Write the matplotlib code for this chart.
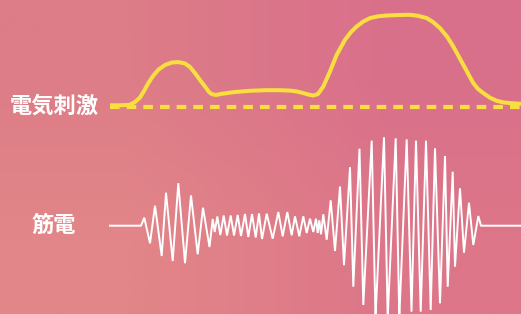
import numpy as np
import matplotlib
matplotlib.use("Agg")
import matplotlib.pyplot as plt

plt.rcParams['font.family'] = ['Noto Sans CJK JP', 'DejaVu Sans']

# Labels
stim_label = "電気刺激"
emg_label = "筋電"

# Electrical stimulation envelope (time, level above baseline)
stim_t = [110, 120, 130, 135, 140, 144, 148.3, 153, 158.3, 165, 172, 178.3,
          185, 190, 195, 200, 205, 209, 211.7, 216, 221.7, 235, 250, 265,
          280, 290, 297, 303.3, 309, 313.3, 318, 323.3, 330, 336.7, 345, 351,
          356.7, 363, 370, 378, 386.7, 400, 410, 418, 426.7, 433, 440, 447,
          453.3, 463.3, 473.3, 478, 483.3, 490, 496.7, 503, 510, 521]
stim_v = [1.2, 1.2, 1.7, 4.5, 9, 15.5, 23.4, 30.5, 36.7, 41.5, 44, 44.4,
          43, 39.5, 33.4, 26.5, 20, 14.5, 12.4, 11.5, 12.7, 14.5, 15.7, 16.3,
          16.3, 15.9, 15, 13.4, 11.8, 11, 12.5, 20, 35, 51.7, 66.7, 74.5,
          80, 84.8, 88.4, 90.2, 91, 91.5, 91.7, 90.7, 88.4, 84.5, 78.4, 70,
          60, 41.7, 23.4, 17.5, 13.4, 8.8, 5.7, 4.2, 3.4, 2.7]

# EMG trace (time, amplitude)
emg_t = [110, 141, 144.3, 150, 155, 161.7, 166, 172.7, 178.3, 185, 191,
         197.7, 203, 209.5, 212.7, 214.7, 217.3, 220.3, 223.7, 227, 230.7,
         234, 237.7, 241, 245, 248.3, 252, 255.7, 259, 262, 266.7, 272.7,
         278.3, 282.7, 287.3, 291.7, 295, 299.3, 303.3, 306.7, 310, 313.3,
         316, 317.7, 319.3, 321, 323.3, 326.7, 330.7, 335, 340, 344, 350,
         353.3, 359.5, 363.3, 371.7, 375.5, 384, 387.7, 395.7, 399.3, 406.7,
         411.5, 416, 420.7, 426, 430.7, 435, 440, 445, 447.7, 452.7, 455,
         460, 464, 469, 473.3, 478.3, 481, 521]
emg_v = [0, 0, 8, -17.6, 20, -30.3, 33, -35.3, 42.5, -37.5, 30.3,
         -28.6, 18, -21.3, 6.7, -6.3, 9.2, -9.3, 10.2, -9.8, 10.2,
         -9.8, 10.7, -10.3, 11.7, -11.3, 11.7, -11.8, 12.2, -13.3, 12, -13,
         13.7, -10.6, 13.7, -9.6, 9.4, -10.6, 9.4, -7.3, 7, -6.3,
         7, -7.3, 5.4, -8.6, 11.4, -14, 25.4, -25.3, 39.2, -39.5, 58.5,
         -61, 77, -79.3, 85, -92, 88.4, -92, 87.4, -92, 86.4,
         -86, 85, -86, 85, -84.3, 77.4, -77.6, 69.7, -61, 54, -41,
         37.4, -27, 23, -19.3, 9.7, 0, 0]

W, H = 521, 314
fig = plt.figure(figsize=(W / 100, H / 100), dpi=100)
ax = fig.add_axes([0, 0, 1, 1])
ax.set_xlim(0, W)
ax.set_ylim(H, 0)
ax.axis('off')

# soft pink gradient background
corners = np.array([[[221, 125, 135], [217, 112, 139]],
                    [[226, 134, 137], [221, 118, 136]]]) / 255.0
ax.imshow(corners, extent=[0, W, H, 0], interpolation='bilinear', aspect='auto', zorder=0)

yellow = '#f8df3f'
stim_base = 106.5
emg_base = 225.7

# baseline + envelope
ax.plot([110, W], [stim_base, stim_base], color=yellow, lw=3.0,
        dashes=(2.3, 1.7), dash_capstyle='butt', zorder=2)
ax.plot(stim_t, stim_base - np.array(stim_v), color=yellow, lw=2.9,
        solid_capstyle='butt', solid_joinstyle='round', zorder=3)

# EMG
ax.plot(emg_t, emg_base - np.array(emg_v), color='white', lw=1.4,
        solid_joinstyle='miter', zorder=3)

ax.text(10, stim_base, stim_label, color='white', fontsize=16, fontweight='bold',
        ha='left', va='center', zorder=4)
ax.text(32, emg_base, emg_label, color='white', fontsize=16, fontweight='bold',
        ha='left', va='center', zorder=4)

fig.savefig('out.png', dpi=100)
